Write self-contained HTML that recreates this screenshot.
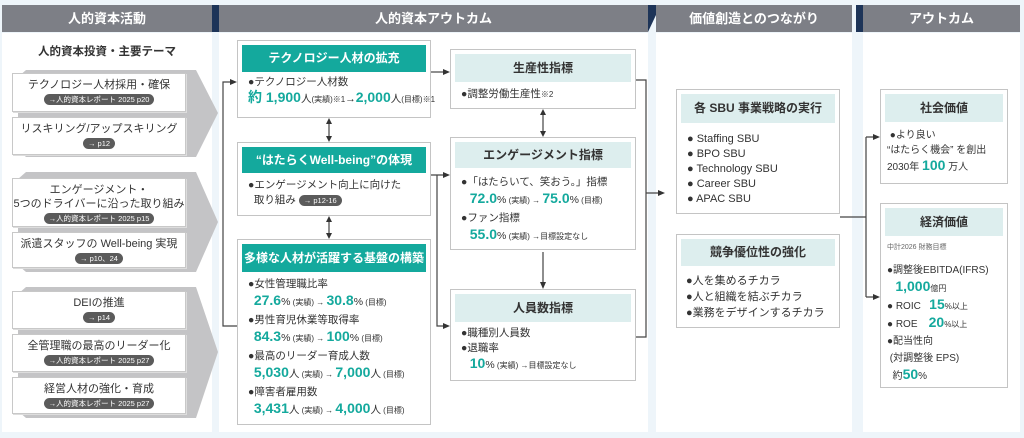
<!DOCTYPE html>
<html><head><meta charset="utf-8"><style>
*{margin:0;padding:0;box-sizing:border-box}
body{width:1024px;height:438px;background:#eef5fa;position:relative;overflow:hidden;font-family:"Liberation Sans","Noto Sans CJK JP",sans-serif;color:#333}
.a{position:absolute}
.panel{position:absolute;background:#fff;top:33px;height:399px}
.hdr{position:absolute;top:5px;height:27px;background:#7d7f86;color:#fff;font-weight:bold;font-size:13px;text-align:center;line-height:27px}
.lb{position:absolute;left:12px;width:174px;background:#fff;border:1px solid #c8c8c8;text-align:center;font-size:11px;line-height:14px;padding-top:4px;box-shadow:1px 1px 0 #ddd}
.pill{display:inline-block;background:#5b5b5b;color:#fff;border-radius:7px;font-size:7.5px;line-height:11px;padding:0 5px}
.box{position:absolute;background:#fff;border:1px solid #c4c4c4}
.th{position:absolute;left:4px;right:4px;top:4px;background:#14a99d;color:#fff;font-weight:bold;font-size:12px;text-align:center}
.lh{position:absolute;left:4px;right:4px;top:4px;background:#ddeeee;color:#333;font-weight:bold;font-size:12px;text-align:center}
.t{position:absolute;font-size:10.5px;line-height:15px;white-space:nowrap}
.t div{height:18px;line-height:18px}
.g{color:#14a99d;font-weight:bold;font-size:14px;line-height:1}
.s{font-size:8px;line-height:1}
</style></head><body>
<div class="panel" style="left:2px;width:210px"></div>
<div class="panel" style="left:219px;width:429px"></div>
<div class="panel" style="left:656px;width:196px"></div>
<div class="panel" style="left:863px;width:157px"></div>
<div class="hdr" style="left:2px;width:210px">人的資本活動</div>
<div class="hdr" style="left:219px;width:429px">人的資本アウトカム</div>
<div class="hdr" style="left:656px;width:196px">価値創造とのつながり</div>
<div class="hdr" style="left:863px;width:157px">アウトカム</div>
<svg class="a" style="left:0;top:0" width="1024" height="438">
<g fill="#1d3458"><polygon points="212,5 219,5 219,32 212,32"/><polygon points="648,5 656,5 656,15 648,32"/><polygon points="856,5 863,5 863,32 856,32"/></g>
<g fill="#c4c4c6">
<polygon points="26,70 196,70 218,113 196,157 26,157 18,150 18,77"/>
<polygon points="26,172 196,172 218,222 196,272 26,272 18,265 18,179"/>
<polygon points="26,287 196,287 218,352 196,418 26,418 18,411 18,294"/>
</g>
<g stroke="#444" stroke-width="1.2" fill="none">
<path d="M233,82 H223 V326 H237"/>
<path d="M431,72 H447"/>
<path d="M431,175 H437 V326 H447 M437,175 H447"/>
<path d="M329,121 V139 M329,219 V236 M543,112 V134 M543,252 V284"/>
<path d="M636,80 H646 V337 H636 M646,193 H661"/>
<path d="M840,217 H866 M866,137 V297 M866,137 H876 M866,297 H876"/>
</g>
<g fill="#333">
<polygon points="237,82 230,79 230,85"/>
<polygon points="450,72 443,69 443,75"/><polygon points="450,175 443,172 443,178"/><polygon points="450,326 443,323 443,329"/>
<polygon points="329,118 326,124 332,124"/><polygon points="329,142 326,136 332,136"/>
<polygon points="329,216 326,222 332,222"/><polygon points="329,239 326,233 332,233"/>
<polygon points="543,109 540,115 546,115"/><polygon points="543,137 540,131 546,131"/>
<polygon points="543,289 540,282 546,282"/>
<polygon points="665,193 658,190 658,196"/>
<polygon points="880,137 873,134 873,140"/><polygon points="880,297 873,294 873,300"/>
</g>
</svg>
<div class="a" style="left:2px;width:210px;top:43px;text-align:center;font-weight:bold;font-size:11.5px">人的資本投資・主要テーマ</div>
<div class="lb" style="top:73px;height:39px">テクノロジー人材採用・確保<br><span class="pill">→人的資本レポート 2025 p20</span></div>
<div class="lb" style="top:117px;height:38px">リスキリング/アップスキリング<br><span class="pill">→ p12</span></div>
<div class="lb" style="top:178px;height:49px">エンゲージメント・<br>5つのドライバーに沿った取り組み<br><span class="pill">→人的資本レポート 2025 p15</span></div>
<div class="lb" style="top:232px;height:36px">派遣スタッフの Well-being 実現<br><span class="pill">→ p10、24</span></div>
<div class="lb" style="top:291px;height:38px">DEIの推進<br><span class="pill">→ p14</span></div>
<div class="lb" style="top:334px;height:38px">全管理職の最高のリーダー化<br><span class="pill">→人的資本レポート 2025 p27</span></div>
<div class="lb" style="top:377px;height:37px">経営人材の強化・育成<br><span class="pill">→人的資本レポート 2025 p27</span></div>

<div class="box" style="left:237px;top:40px;width:194px;height:78px"><div class="th" style="height:27px;line-height:27px">テクノロジー人材の拡充</div>
<div class="t" style="left:10px;top:34px">●テクノロジー人材数<br><span class="g">約 1,900</span>人<span class="s">(実績)※1</span>→<span class="g">2,000</span>人<span class="s">(目標)※1</span></div></div>
<div class="box" style="left:237px;top:142px;width:194px;height:74px"><div class="th" style="height:26px;line-height:26px">“はたらくWell-being”の体現</div>
<div class="t" style="left:10px;top:35px">●エンゲージメント向上に向けた<br>&nbsp;&nbsp;取り組み <span class="pill">→ p12-16</span></div></div>
<div class="box" style="left:237px;top:239px;width:194px;height:186px"><div class="th" style="height:28px;line-height:28px">多様な人材が活躍する基盤の構築</div>
<div class="t" style="left:10px;top:35px">
<div>●女性管理職比率</div>
<div>&nbsp;&nbsp;<span class="g">27.6</span>%<span class="s"> (実績) → </span><span class="g">30.8</span>%<span class="s"> (目標)</span></div>
<div>●男性育児休業等取得率</div>
<div>&nbsp;&nbsp;<span class="g">84.3</span>%<span class="s"> (実績) → </span><span class="g">100</span>%<span class="s"> (目標)</span></div>
<div>●最高のリーダー育成人数</div>
<div>&nbsp;&nbsp;<span class="g">5,030</span>人<span class="s"> (実績) → </span><span class="g">7,000</span>人<span class="s"> (目標)</span></div>
<div>●障害者雇用数</div>
<div>&nbsp;&nbsp;<span class="g">3,431</span>人<span class="s"> (実績) → </span><span class="g">4,000</span>人<span class="s"> (目標)</span></div>
</div></div>

<div class="box" style="left:450px;top:49px;width:186px;height:60px"><div class="lh" style="height:28px;line-height:28px">生産性指標</div>
<div class="t" style="left:10px;top:37px">●調整労働生産性<span class="s">※2</span></div></div>
<div class="box" style="left:450px;top:137px;width:186px;height:113px"><div class="lh" style="height:26px;line-height:26px">エンゲージメント指標</div>
<div class="t" style="left:10px;top:35px">
<div>●「はたらいて、笑おう。」指標</div>
<div>&nbsp;&nbsp;&nbsp;<span class="g">72.0</span>%<span class="s"> (実績) → </span><span class="g">75.0</span>%<span class="s"> (目標)</span></div>
<div>●ファン指標</div>
<div>&nbsp;&nbsp;&nbsp;<span class="g">55.0</span>%<span class="s"> (実績) →目標設定なし</span></div>
</div></div>
<div class="box" style="left:450px;top:289px;width:186px;height:92px"><div class="lh" style="height:28px;line-height:28px">人員数指標</div>
<div class="t" style="left:10px;top:36px">●職種別人員数<br>●退職率<br>&nbsp;&nbsp;&nbsp;<span class="g">10</span>%<span class="s"> (実績) →目標設定なし</span></div></div>

<div class="box" style="left:676px;top:89px;width:164px;height:125px"><div class="lh" style="height:29px;line-height:29px">各 SBU 事業戦略の実行</div>
<div class="t" style="left:10px;top:42px;font-size:11px">● Staffing SBU<br>● BPO SBU<br>● Technology SBU<br>● Career SBU<br>● APAC SBU</div></div>
<div class="box" style="left:676px;top:234px;width:164px;height:94px"><div class="lh" style="height:27px;line-height:27px">競争優位性の強化</div>
<div class="t" style="left:9px;top:38px;font-size:11px;line-height:16px">●人を集めるチカラ<br>●人と組織を結ぶチカラ<br>●業務をデザインするチカラ</div></div>

<div class="box" style="left:880px;top:89px;width:128px;height:95px"><div class="lh" style="height:28px;line-height:28px">社会価値</div>
<div class="t" style="left:6px;top:38px;font-size:10px">&nbsp;●より良い<br>“はたらく機会” を創出<br>2030年 <span class="g">100</span> 万人</div></div>
<div class="box" style="left:880px;top:203px;width:128px;height:185px"><div class="lh" style="height:28px;line-height:28px">経済価値</div>
<div class="a" style="left:6px;top:38px;font-size:7px;color:#666">中計2026 財務目標</div>
<div class="t" style="left:6px;top:58px;font-size:10px;line-height:17px">●調整後EBITDA(IFRS)<br>&nbsp;&nbsp;&nbsp;<span class="g">1,000</span><span class="s">億円</span><br>● ROIC &nbsp;&nbsp;<span class="g">15</span><span class="s">%以上</span><br>● ROE &nbsp;&nbsp;&nbsp;<span class="g">20</span><span class="s">%以上</span><br>●配当性向<br>&nbsp;(対調整後 EPS)<br>&nbsp;&nbsp;約<span class="g">50</span>%</div></div>
</body></html>
